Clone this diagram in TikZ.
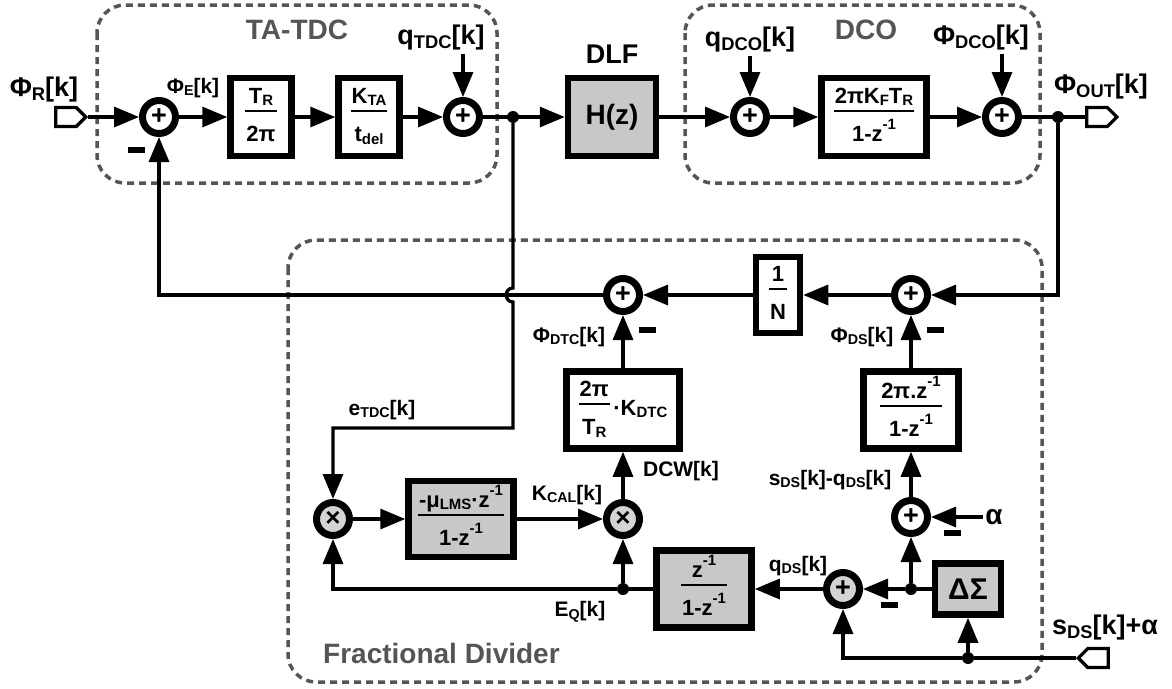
\documentclass[tikz,border=0pt]{standalone}
\usepackage{fontspec}
\setmainfont{Liberation Sans}
\usepackage{graphicx}
\usetikzlibrary{arrows.meta,shapes.symbols}
\setlength{\arrayrulewidth}{2.8pt}
\definecolor{boxgray}{HTML}{C8C8C8}
\definecolor{sumgray}{HTML}{D4D4D4}
\definecolor{grp}{HTML}{555555}
\newcommand\lo[1]{\raisebox{-0.12em}{\scalebox{0.68}{#1}}}
\newcommand\up[1]{\raisebox{0.55em}{\scalebox{0.68}{#1}}}
\newcommand\fs[1]{\fontsize{#1}{1.2\dimexpr#1pt\relax}\selectfont}
\newcommand\fr[2]{\begin{tabular}{@{\hspace{1pt}}c@{\hspace{1pt}}}#1\\[-1.5pt]\hline\rule{0pt}{29pt}#2\end{tabular}}
\tikzset{
  blk/.style={draw, line width=6.5pt, inner sep=0pt, fill=white, font=\fs{22}\bfseries},
  gblk/.style={blk, fill=boxgray},
  sum/.style={circle, draw, line width=7pt, minimum size=33pt, inner sep=0pt, fill=white, font=\fs{27}\bfseries},
  gsum/.style={sum, fill=sumgray},
  dot/.style={circle, fill=black, minimum size=12pt, inner sep=0pt},
  lbl/.style={font=\fs{21}\bfseries, inner sep=0pt},
  big/.style={font=\fs{27}\bfseries, inner sep=0pt},
  grplbl/.style={font=\fs{28}\bfseries, text=grp, inner sep=0pt},
  grpbox/.style={draw=grp, line width=3.5pt, dash pattern=on 7pt off 5pt, rounded corners=28pt},
  minus/.style={fill=black, minimum width=17pt, minimum height=6pt, inner sep=0pt},
  port/.style={signal, draw, line width=3.2pt, fill=white, minimum width=30pt, minimum height=19pt, inner sep=0pt},
  wire/.style={line width=3.3pt},
  arr/.style={wire, -{Triangle[length=25pt,width=20pt]}}
}
\begin{document}
\begin{tikzpicture}[x=1pt, y=-1pt]
\useasboundingbox (0,0) rectangle (1172,688);
\fill[white] (0,0) rectangle (1172,688);
% group boxes
\draw[grpbox] (97,5) rectangle (497,183);
\draw[grpbox] (685,5) rectangle (1040,183);
\draw[grpbox] (288,240) rectangle (1042,682);
\node[grplbl] (gTA) at (297,30) {TA-TDC};
\node[grplbl] (gDCO) at (866,30) {DCO};
\node[grplbl, anchor=west] (gFD) at (323,653) {Fractional Divider};
% top row
\node[port, signal to=east] (pR) at (66,117) {};
\node[sum] (s1) at (159,117) {+};
\node[blk, minimum width=61pt, minimum height=78pt] (bTR) at (261,117) {\fr{T\lo{R}}{2π}};
\node[blk, minimum width=61pt, minimum height=78pt] (bKTA) at (369,117) {\fr{K\lo{TA}}{t\lo{del}}};
\node[sum] (s2) at (463,117) {+};
\node[dot] (d1) at (513,117) {};
\node[gblk, minimum width=88pt, minimum height=78pt, font=\fs{28}\bfseries] (bDLF) at (612,117) {H(z)};
\node[sum] (s3) at (750,117) {+};
\node[blk, minimum width=105pt, minimum height=78pt] (bDCO) at (874,117) {\fr{2πK\lo{F}T\lo{R}}{1-z\up{-1}}};
\node[sum] (s4) at (1002,117) {+};
\node[dot] (d2) at (1058,117) {};
\node[port, signal to=east] (pO) at (1097,117) {};
% top labels
\node[big] (LPhiR) at (44,90) {Φ\lo{R}[k]};
\node[lbl] (LPhiE) at (193,88) {Φ\lo{E}[k]};
\node[big] (LqTDC) at (441,38) {q\lo{TDC}[k]};
\node[font=\fs{27}\bfseries, inner sep=0pt] (LDLF) at (612,54) {DLF};
\node[big] (LqDCO) at (750,40) {q\lo{DCO}[k]};
\node[big] (LPhiDCO) at (981,38) {Φ\lo{DCO}[k]};
\node[big] (LPhiOUT) at (1101,87) {Φ\lo{OUT}[k]};
\node[minus] (mS1) at (136,150) {};
% feedback row
\node[sum] (s5) at (911,295) {+};
\node[blk, minimum width=44pt, minimum height=76pt] (bN) at (778,295) {\fr{1}{N}};
\node[sum] (s6) at (623,295) {+};
\node[minus] (mS6) at (647,330) {};
\node[minus] (mS5) at (935,330) {};
\node[lbl] (LPhiDTC) at (569,337) {Φ\lo{DTC}[k]};
\node[lbl] (LPhiDS) at (862,337) {Φ\lo{DS}[k]};
% middle
\node[blk, minimum width=113pt, minimum height=77pt] (bDTC) at (623,410) {\fr{2π}{T\lo{R}}\,·K\lo{DTC}};
\node[blk, minimum width=95pt, minimum height=77pt] (bDS) at (911,410) {\fr{2π.z\up{-1}}{1-z\up{-1}}};
\node[lbl] (LeTDC) at (382,410) {e\lo{TDC}[k]};
\node[lbl] (LDCW) at (681,471) {DCW[k]};
\node[lbl] (LsmQ) at (830,480) {s\lo{DS}[k]-q\lo{DS}[k]};
% lower
\node[gsum, font=\fs{26}\bfseries] (m1) at (333,519) {×};
\node[gblk, minimum width=105pt, minimum height=76pt] (bLMS) at (461,519) {\fr{-μ\lo{LMS}·z\up{-1}}{1-z\up{-1}}};
\node[gsum, font=\fs{26}\bfseries] (m2) at (623,519) {×};
\node[lbl] (LKCAL) at (567,495) {K\lo{CAL}[k]};
\node[sum] (s8) at (911,517) {+};
\node[font=\fs{28}\bfseries, inner sep=2pt] (alpha) at (994,517) {α};
\node[minus] (mS8) at (952,533) {};
\node[gblk, minimum width=95pt, minimum height=77pt] (bACC) at (704,589) {\fr{z\up{-1}}{1-z\up{-1}}};
\node[dot] (dEQ) at (623,589) {};
\node[lbl] (LEQ) at (580,612) {E\lo{Q}[k]};
\node[gsum] (s7) at (843,589) {+};
\node[minus] (mS7) at (889,605) {};
\node[lbl] (LqDS) at (798,566) {q\lo{DS}[k]};
\node[dot] (dDS) at (911,589) {};
\node[gblk, minimum width=66pt, minimum height=51pt, font=\fs{30}\bfseries] (bDSM) at (968,589) {ΔΣ};
\node[dot] (dIn) at (968,658) {};
\node[port, signal to=west] (pS) at (1098,658) {};
\node[font=\fs{27}\bfseries, inner sep=0pt] (LsIn) at (1105,628) {s\lo{DS}[k]+α};
% wires top
\draw[arr] (pR.east) -- (s1);
\draw[arr] (s1) -- (bTR);
\draw[arr] (bTR) -- (bKTA);
\draw[arr] (bKTA) -- (s2);
\draw[arr] (s2) -- (bDLF);
\draw[arr] (bDLF) -- (s3);
\draw[arr] (s3) -- (bDCO);
\draw[arr] (bDCO) -- (s4);
\draw[wire] (s4) -- (pO.west);
\draw[arr] (s2 |- LqTDC.south) ++(0,3) -- (s2);
\draw[arr] (s3 |- LqDCO.south) ++(0,3) -- (s3);
\draw[arr] (s4 |- LPhiDCO.south) ++(0,3) -- (s4);
% feedback
\draw[arr] (d2) -- (d2 |- s5) -- (s5);
\draw[arr] (s5) -- (bN);
\draw[arr] (bN) -- (s6);
\draw[arr] (s6) -- (s1 |- s6) -- (s1);
\draw[arr] (d1) -- (513,288) .. controls (504,288) and (504,302) .. (513,302) -- (513,428) -- (333,428) -- (m1);
\draw[arr] (bDTC) -- (s6);
\draw[arr] (m2) -- (bDTC);
\draw[arr] (m1) -- (bLMS);
\draw[arr] (bLMS) -- (m2);
\draw[wire] (bACC) -- (dEQ);
\draw[arr] (dEQ) -- (m1 |- dEQ) -- (m1);
\draw[arr] (dEQ) -- (m2);
\draw[arr] (s7) -- (bACC);
\draw[wire] (bDSM) -- (dDS);
\draw[arr] (dDS) -- (s7);
\draw[arr] (dDS) -- (s8);
\draw[arr] (alpha) -- (s8);
\draw[arr] (s8) -- (bDS);
\draw[arr] (bDS) -- (s5);
\draw[wire] (pS.west) -- (dIn);
\draw[arr] (dIn) -- (s7 |- dIn) -- (s7);
\draw[arr] (dIn) -- (bDSM);
\end{tikzpicture}
\end{document}
